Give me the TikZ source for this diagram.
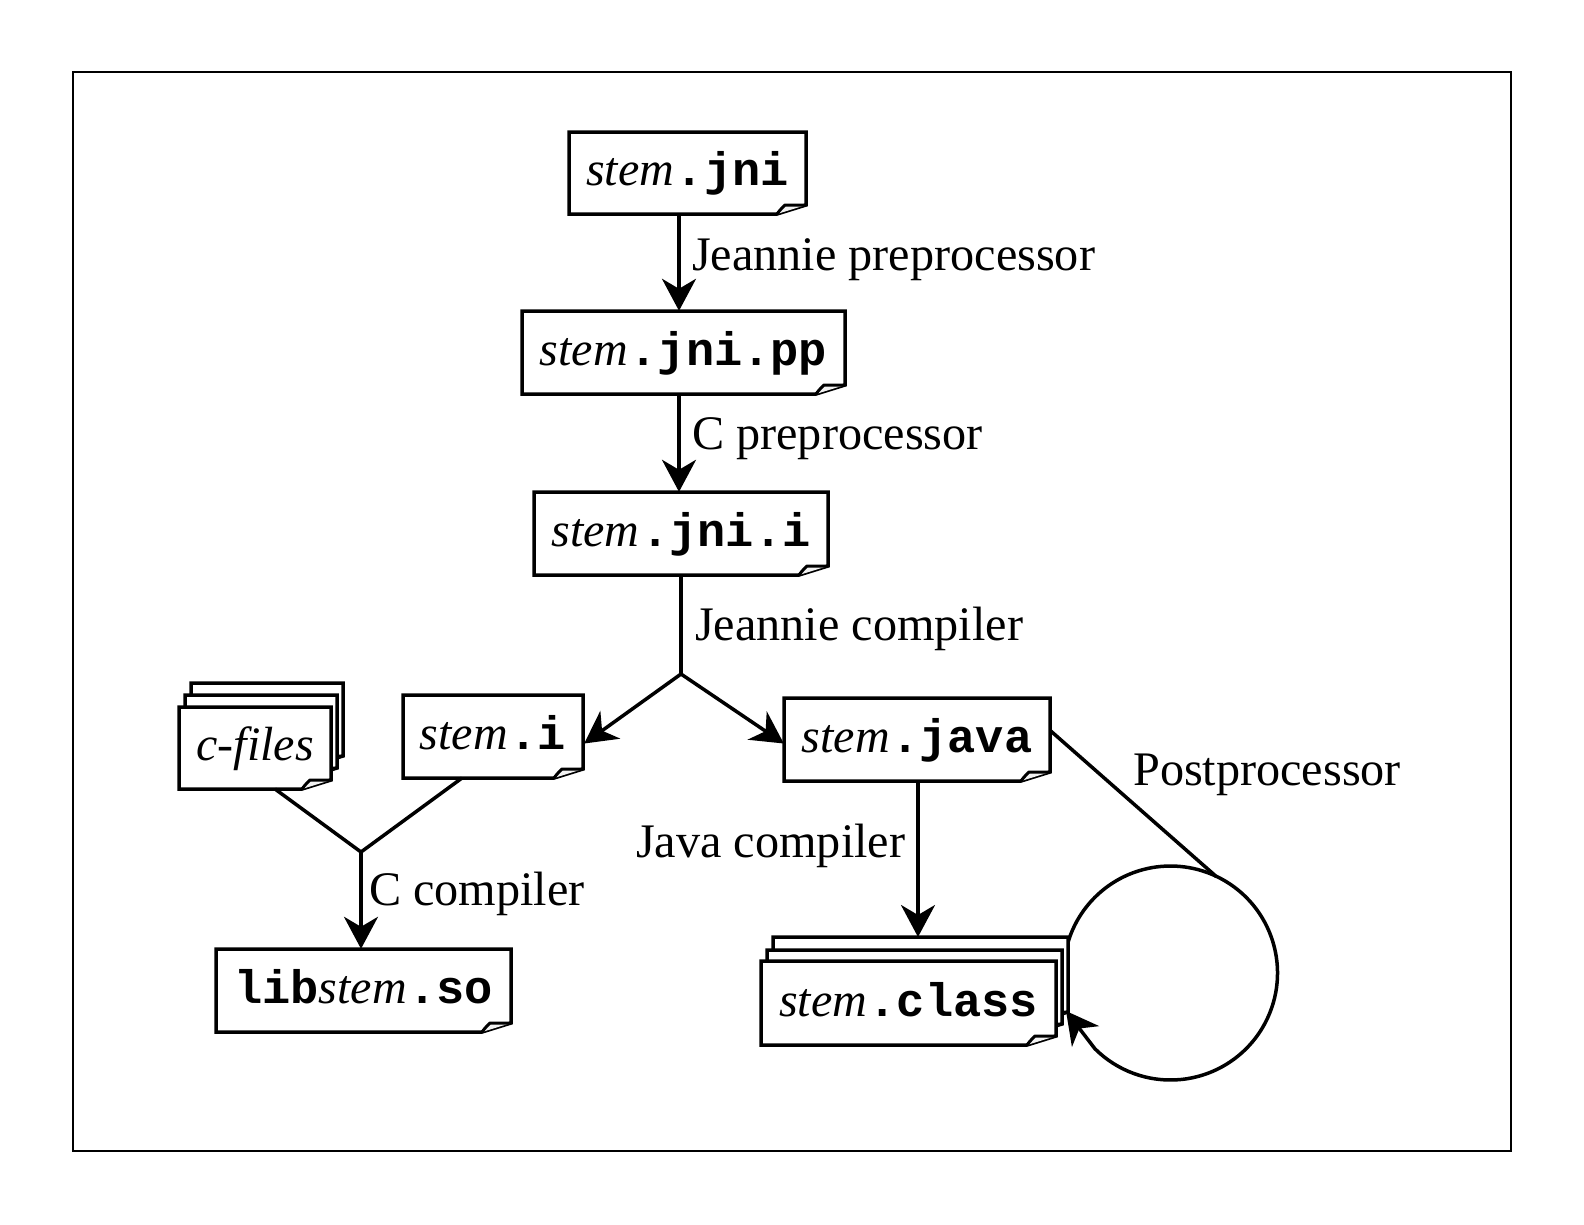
\documentclass[tikz,border=0pt]{standalone}
\usepackage{fontspec}
\setmainfont{Liberation Serif}
\setmonofont{Liberation Mono}
\usetikzlibrary{arrows.meta,calc}
\newcommand{\st}{{\itshape\fontsize{48}{48}\selectfont stem}}
\newcommand{\mo}[1]{{\ttfamily\bfseries\fontsize{47}{47}\selectfont #1}}
\tikzset{
  x=1pt,y=1pt,
  framebox/.style={draw=black,line width=1.8pt},
  docoutline/.style={draw=black,fill=white,line width=3.5pt,line join=miter},
  docfold/.style={draw=black,fill=gray!10,line width=3pt,line join=round},
  flow/.style={draw=black,line width=3.5pt},
  flowarrow/.style={flow,-{Stealth[length=32pt,width=34pt,inset=10pt]}},
  lab/.style={anchor=base west,inner sep=0pt,font=\fontsize{48.2}{48.2}\selectfont},
}
% #1 x1 #2 y1 #3 x2 #4 y2 (pixels from the top left)
\newcommand{\pageshape}[4]{%
  \path[docoutline] (#1,-#2) -- (#3,-#2) -- (#3,-#4+9) -- (#3-29,-#4) -- (#1,-#4) -- cycle;
  \path[docfold] (#3-29,-#4) .. controls (#3-26,-#4+4) .. (#3-21,-#4+9) .. controls (#3-14,-#4+9) .. (#3,-#4+9);
}
% #1 name, #2-#5 corners, #6 text
\newcommand{\docbox}[6]{%
  \pageshape{#2}{#3}{#4}{#5}
  \pgfmathsetmacro{\boxcx}{(#2+#4)/2}
  \pgfmathsetmacro{\boxcy}{(#3+#5)/2}
  \pgfmathsetmacro{\boxw}{#4-#2}
  \pgfmathsetmacro{\boxh}{#5-#3-29}
  \node[inner sep=0pt,minimum width=\boxw pt,text height=\boxh pt,text depth=29pt,align=center] (#1) at (\boxcx,-\boxcy) {#6};
}
\begin{document}
\begin{tikzpicture}
\useasboundingbox (0,0) rectangle (1584,-1224);
\path[framebox] (73,-72) rectangle (1511,-1151);

\coordinate (cc) at (1170.5,-973);
\draw[line width=3.5pt] (cc) ++(165:107) arc[start angle=165,end angle=65,radius=107];

% stacked pages
\pageshape{191}{683}{343}{765}
\pageshape{185}{695}{337}{777}
\pageshape{773}{937}{1068}{1021}
\pageshape{767}{950}{1062}{1033}

\docbox{jni}{569}{132}{806}{214}{\st\,\mo{.jni}}
\docbox{jnipp}{522}{311}{845}{394}{\st\,\mo{.jni.pp}}
\docbox{jnii}{534}{492}{828}{575}{\st\,\mo{.jni.i}}
\docbox{stemi}{403}{695}{583}{778}{\st\,\mo{.i}}
\docbox{cfiles}{179}{707}{331}{789}{{\itshape\fontsize{48}{48}\selectfont c-files}}
\docbox{lib}{216}{949}{511}{1032}{\mo{lib}\st\,\mo{.so}}
\docbox{java}{784}{698}{1050}{781}{\st\,\mo{.java}}
\docbox{class}{761}{961}{1056}{1045}{\st\,\mo{.class}}

\coordinate (axis) at (679,0);
\coordinate (fork) at (681,-674);
\coordinate (join) at (361,-852);
\coordinate (cfout) at (275,-789);
\coordinate (siout) at (462,-778);
\coordinate (classtop) at (918,-937);
\coordinate (looptip) at (1066,-1011);

\draw[flowarrow] (jni.south -| axis) -- (jnipp.north -| axis);
\draw[flowarrow] (jnipp.south -| axis) -- (jnii.north -| axis);
\draw[flow] (jnii.south) -- (fork);
\draw[flowarrow] (fork) -- ([xshift=1pt,yshift=-7pt]stemi.east);
\draw[flowarrow] (fork) -- ([yshift=-4pt]java.west);
\draw[flow] (cfout) -- (join);
\draw[flow] (siout) -- (join);
\draw[flowarrow] (join) -- (join |- lib.north);
\draw[flowarrow] (classtop |- java.south) -- (classtop);
\draw[flowarrow] ([yshift=9pt]java.east) -- ($(cc)+(65:107)$) arc[start angle=65,end angle=-135,radius=107] -- (looptip);

\node[lab] (l1) at (692,-270) {Jeannie preprocessor};
\node[lab] (l2) at (692,-449.5) {C preprocessor};
\node[lab] (l3) at (695,-640) {Jeannie compiler};
\node[lab] (l4) at (1133,-785) {Postprocessor};
\node[lab] (l5) at (636,-857) {Java compiler};
\node[lab] (l6) at (369,-905) {C compiler};
\end{tikzpicture}
\end{document}
